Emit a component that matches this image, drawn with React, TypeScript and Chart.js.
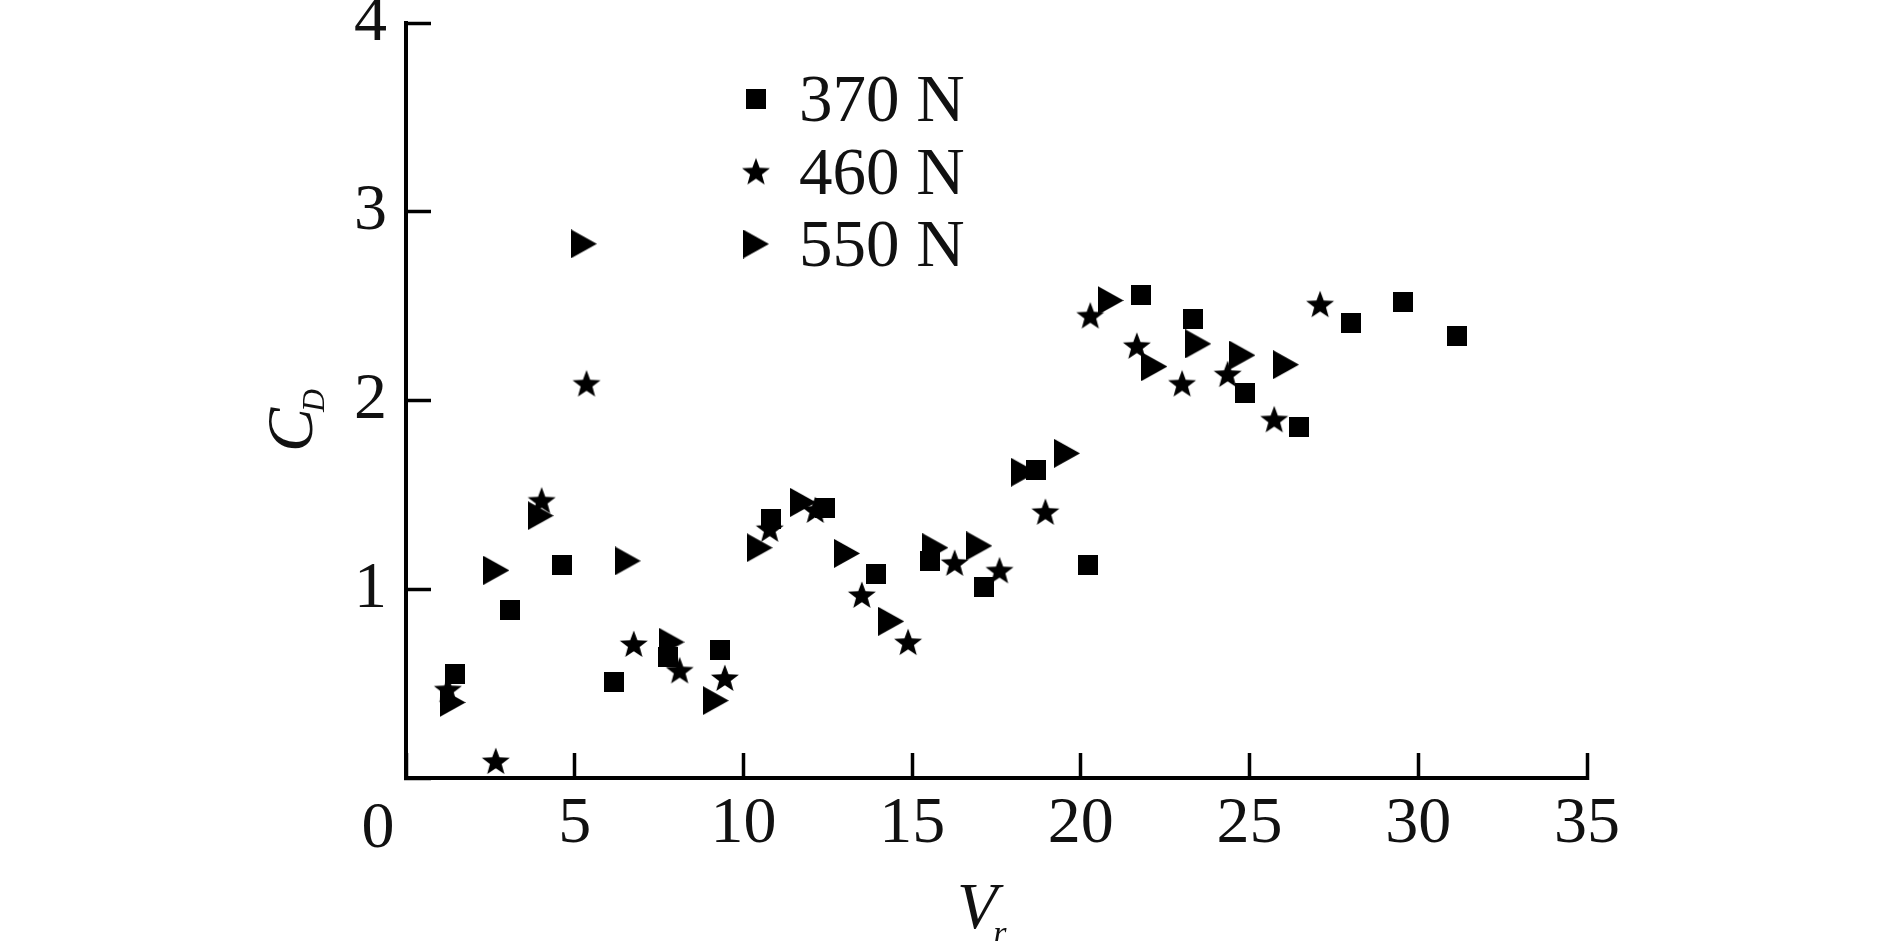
import React, { useEffect, useRef } from 'react';
import { Chart, registerables } from 'chart.js';

Chart.register(...registerables);

// ---- data ----
const seriesLabels = ['370 N', '460 N', '550 N'];

const vr370 = [1.45, 3.08, 4.61, 6.16, 7.77, 9.3, 10.83, 12.43, 13.94, 15.52, 17.12, 18.66, 20.2, 21.78, 23.33, 24.87, 26.47, 28.0, 29.55, 31.15];
const cd370 = [0.55, 0.89, 1.13, 0.51, 0.64, 0.68, 1.37, 1.43, 1.08, 1.15, 1.01, 1.63, 1.13, 2.56, 2.43, 2.04, 1.86, 2.41, 2.52, 2.34];

const vr460 = [1.24, 2.66, 4.02, 5.35, 6.75, 8.11, 9.45, 10.78, 12.13, 13.51, 14.88, 16.26, 17.59, 18.95, 20.28, 21.66, 23.0, 24.35, 25.73, 27.09];
const cd460 = [0.47, 0.09, 1.47, 2.09, 0.71, 0.57, 0.53, 1.32, 1.42, 0.97, 0.72, 1.14, 1.1, 1.41, 2.45, 2.29, 2.09, 2.14, 1.9, 2.51];

const vr550 = [1.38, 2.68, 3.99, 5.27, 6.57, 7.87, 9.18, 10.48, 11.77, 13.07, 14.38, 15.69, 16.99, 18.31, 19.59, 20.88, 22.18, 23.48, 24.79, 26.08];
const cd550 = [0.4, 1.1, 1.39, 2.83, 1.15, 0.72, 0.41, 1.22, 1.46, 1.19, 0.83, 1.22, 1.23, 1.62, 1.72, 2.53, 2.18, 2.3, 2.24, 2.19];

const xMin = 0, xMax = 35, xStep = 5;
const yMin = 0, yMax = 4, yStep = 1;

const FONT = '"Liberation Serif", "Times New Roman", serif';
const INK = '#111';

function makeSquare(): HTMLCanvasElement {
  const c = document.createElement('canvas');
  c.width = 20; c.height = 20;
  const g = c.getContext('2d')!;
  g.fillStyle = '#000';
  g.fillRect(0, 0, 20, 20);
  return c;
}

function makeStar(): HTMLCanvasElement {
  const c = document.createElement('canvas');
  c.width = 30; c.height = 30;
  const g = c.getContext('2d')!;
  const R = 14.7, r = R * 0.42, cx = 15, cy = 16.2;
  g.beginPath();
  for (let i = 0; i < 10; i++) {
    const a = -Math.PI / 2 + (i * Math.PI) / 5;
    const rr = i % 2 === 0 ? R : r;
    const px = cx + rr * Math.cos(a), py = cy + rr * Math.sin(a);
    if (i === 0) g.moveTo(px, py); else g.lineTo(px, py);
  }
  g.closePath();
  g.fillStyle = '#000';
  g.fill();
  return c;
}

function makeTriangle(): HTMLCanvasElement {
  const c = document.createElement('canvas');
  c.width = 26; c.height = 29;
  const g = c.getContext('2d')!;
  g.beginPath();
  g.moveTo(0, 0);
  g.lineTo(26, 14.5);
  g.lineTo(0, 29);
  g.closePath();
  g.fillStyle = '#000';
  g.fill();
  return c;
}

function toPoints(xs: number[], ys: number[]) {
  return xs.map((x, i) => ({ x, y: ys[i] }));
}

export default function App() {
  const ref = useRef<HTMLCanvasElement | null>(null);

  useEffect(() => {
    document.body.style.margin = '0';
    const canvas = ref.current;
    if (!canvas) return;
    const sq = makeSquare();
    const st = makeStar();
    const tr = makeTriangle();
    const icons = [sq, st, tr];

    const overlay = {
      id: 'overlay',
      afterDraw(chart: any) {
        const ctx = chart.ctx as CanvasRenderingContext2D;
        const xs = chart.scales.x;
        const area = chart.chartArea;
        ctx.save();
        ctx.fillStyle = INK;
        // shared origin label "0"
        ctx.font = `66px ${FONT}`;
        ctx.textAlign = 'center';
        ctx.textBaseline = 'alphabetic';
        ctx.fillText('0', xs.getPixelForValue(0) - 28, area.bottom + 69);

        // x title V_r
        ctx.textAlign = 'left';
        ctx.font = `italic 66px ${FONT}`;
        ctx.fillText('V', 957, 928);
        const vw = ctx.measureText('V').width;
        ctx.font = `italic 34px ${FONT}`;
        ctx.fillText('r', 957 + vw - 4, 944);

        // y title C_D (rotated)
        ctx.save();
        ctx.translate(312, 452);
        ctx.rotate(-Math.PI / 2);
        ctx.font = `italic 66px ${FONT}`;
        ctx.fillText('C', 0, 0);
        const cw = ctx.measureText('C').width;
        ctx.font = `italic 32px ${FONT}`;
        ctx.fillText('D', cw - 4, 12);
        ctx.restore();

        // legend
        const rowsY = [99, 171.5, 244];
        chart.data.datasets.forEach((ds: any, i: number) => {
          const ic = icons[i];
          ctx.drawImage(ic, 756 - ic.width / 2, rowsY[i] - ic.height / 2);
          ctx.font = `67px ${FONT}`;
          ctx.textAlign = 'left';
          ctx.textBaseline = 'alphabetic';
          ctx.fillStyle = INK;
          ctx.fillText(ds.label, 799, rowsY[i] + 22);
        });
        ctx.restore();
      },
    };

    const chart = new Chart(canvas, {
      type: 'scatter',
      data: {
        datasets: [
          { label: seriesLabels[0], data: toPoints(vr370, cd370), pointStyle: sq as any, pointRadius: 10, backgroundColor: '#000', borderColor: '#000', order: 3 },
          { label: seriesLabels[1], data: toPoints(vr460, cd460), pointStyle: st as any, pointRadius: 10, backgroundColor: '#000', borderColor: '#000', order: 2 },
          { label: seriesLabels[2], data: toPoints(vr550, cd550), pointStyle: tr as any, pointRadius: 10, backgroundColor: '#000', borderColor: '#000', order: 1 },
        ],
      },
      options: {
        responsive: false,
        animation: false,
        events: [],
        layout: { padding: { left: 0, right: 302, top: 23, bottom: 0 } },
        plugins: { legend: { display: false }, tooltip: { enabled: false }, title: { display: false } },
        scales: {
          x: {
            type: 'linear',
            min: xMin,
            max: xMax,
            border: { display: true, width: 4, color: '#000' },
            grid: { drawOnChartArea: false, drawTicks: true, tickLength: -25, tickWidth: 3.5, tickColor: '#000' },
            ticks: {
              stepSize: xStep,
              padding: 32,
              color: INK,
              font: { family: FONT, size: 66 },
              maxRotation: 0,
              autoSkip: false,
              callback: (v: any) => (Number(v) === 0 ? '' : String(v)),
            },
            afterFit: (s: any) => {
              s.height = 163;
              s.paddingLeft = 0; s.paddingRight = 0; s.paddingTop = 0; s.paddingBottom = 0;
            },
          },
          y: {
            type: 'linear',
            min: yMin,
            max: yMax,
            border: { display: true, width: 4, color: '#000' },
            grid: { drawOnChartArea: false, drawTicks: true, tickLength: -25, tickWidth: 3.5, tickColor: '#000' },
            ticks: {
              stepSize: yStep,
              padding: 44,
              color: INK,
              font: { family: FONT, size: 66 },
              autoSkip: false,
              callback: (v: any) => (Number(v) === 0 ? '' : String(v)),
            },
            afterFit: (s: any) => {
              s.width = 406;
              s.paddingLeft = 0; s.paddingRight = 0; s.paddingTop = 0; s.paddingBottom = 0;
            },
          },
        },
      },
      plugins: [overlay],
    });
    return () => chart.destroy();
  }, []);

  return (
    <div style={{ width: 1889, height: 941, background: '#fff' }}>
      <canvas ref={ref} width={1889} height={941} style={{ display: 'block' }} />
    </div>
  );
}
